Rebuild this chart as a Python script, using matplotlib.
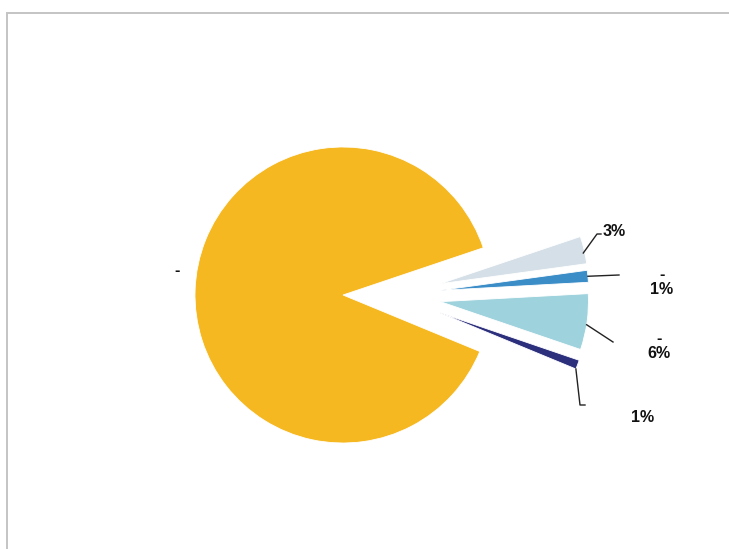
import numpy as np
import matplotlib.pyplot as plt
from matplotlib.patches import Rectangle

# data
names = ['gray', 'blue', 'teal', 'navy', 'main']
shares = [3.0, 1.3, 6.1, 1.0, 88.6]
labels = ['3%', '-\n1%', '-\n6%', '1%', '-']
colors = ['#D5DFE7', '#3B8DC8', '#9ED2DC', '#2C2F7C', '#F6B820']
pulled = [True, True, True, True, False]

plt.rcParams['font.family'] = ['Liberation Sans', 'DejaVu Sans']

W, H = 729, 549
fig = plt.figure(figsize=(W / 100, H / 100), dpi=100)
ax = fig.add_axes([0, 0, 1, 1])

# frame of the chart area
fig.patches.append(Rectangle((7 / W, -0.05), 1.1, 1 - 13 / H + 0.05,
                             transform=fig.transFigure, fill=False,
                             edgecolor='#C4C4C4', linewidth=1.4))

wedges, _ = ax.pie(shares, colors=colors, startangle=18.6,
                   counterclock=False, radius=1.0,
                   wedgeprops=dict(edgecolor='white', linewidth=0.6))

# pull the small slices out as a group (direction = half their mid angle)
for w, p in zip(wedges, pulled):
    if p:
        mid = np.deg2rad((w.theta1 + w.theta2) / 2 * 0.5)
        w.set_center((0.66 * np.cos(mid), 0.66 * np.sin(mid)))

# pixel -> data helpers (148 px per unit, center at 343, 295)
s = 148.0
cx, cy = 343, 295
ax.set_xlim(-cx / s, (W - cx) / s)
ax.set_ylim(-(H - cy) / s, cy / s)
ax.set_aspect('auto')


def pt(px, py):
    return (px - cx) / s, (cy - py) / s


def anchor(w, frac=0.5, rr=1.0):
    a = np.deg2rad(w.theta1 + (w.theta2 - w.theta1) * frac)
    return w.center[0] + rr * w.r * np.cos(a), w.center[1] + rr * w.r * np.sin(a)


bold = dict(fontsize=11.5, fontweight='bold', color='#111111')
lc = '#222222'

# 3%
a = anchor(wedges[0], 0.4, 0.99)
b = pt(597, 234)
c = pt(601, 234)
ax.plot([a[0], b[0], c[0]], [a[1], b[1], c[1]], color=lc, lw=1)
ax.text(*pt(603, 232), labels[0], ha='left', va='center', **bold)

# 1% blue
a = anchor(wedges[1], 0.5, 1.0)
b = pt(619, 275)
ax.plot([a[0], b[0]], [a[1], b[1]], color=lc, lw=1)
ax.text(*pt(662, 282), labels[1], ha='center', va='center', linespacing=1.0, **bold)

# 6%
a = anchor(wedges[2], 0.45, 1.0)
b = pt(613, 342)
ax.plot([a[0], b[0]], [a[1], b[1]], color=lc, lw=1)
ax.text(*pt(659, 346), labels[2], ha='center', va='center', linespacing=1.0, **bold)

# 1% navy
a = anchor(wedges[3], 0.0, 1.0)
b = pt(580, 405)
c = pt(585, 405)
ax.plot([a[0], b[0], c[0]], [a[1], b[1], c[1]], color=lc, lw=1)
ax.text(*pt(643, 418), labels[3], ha='center', va='center', **bold)

# main slice
ax.text(*pt(177, 270), labels[4], ha='center', va='center', **bold)

ax.axis('off')
fig.savefig('out.png', dpi=100, facecolor='white')
